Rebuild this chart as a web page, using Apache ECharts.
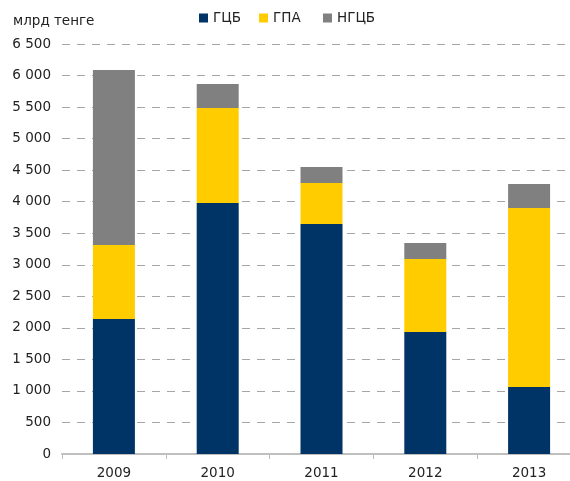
<!DOCTYPE html>
<html><head><meta charset="utf-8">
<script src="https://cdn.jsdelivr.net/npm/echarts@6/dist/echarts.min.js"></script>
<style>html,body{margin:0;padding:0;background:#fff}#c{width:570px;height:481px}</style>
</head><body><div id="c"></div>
<script>
var categories = ['2009','2010','2011','2012','2013'];
var gcb  = [2140, 3979, 3646, 1934, 1062];
var gpa  = [1173, 1506, 650, 1157, 2838];
var ngcb = [2775, 381, 254, 254, 380];
var yTicks = {min: 0, max: 6500, interval: 500};
var seriesNames = ['ГЦБ','ГПА','НГЦБ'];

var chart = echarts.init(document.getElementById('c'), null, {renderer:'canvas'});
var font = 'DejaVu Sans';
var fs = 13.5;
var legendLeft = [199, 259, 323];
function fmt(v){ return String(v).replace(/\B(?=(\d{3})+(?!\d))/g, ' '); }
chart.setOption({
  animation: false,
  textStyle: {fontFamily: font},
  title: {text: 'млрд тенге', left: 8, top: 9, textStyle: {fontFamily: font, fontSize: fs, fontWeight: 'normal', color: '#222'}},
  legend: seriesNames.map(function(n, i){
    return {data: [n], top: 11, left: legendLeft[i], padding: 0, icon: 'rect', itemWidth: 9, itemHeight: 9,
      textStyle: {fontFamily: font, fontSize: fs, color: '#222'}};
  }),
  grid: {left: 62, width: 519, top: 44, bottom: 27, containLabel: false, outerBoundsMode: 'none'},
  xAxis: {
    type: 'category', data: categories,
    axisLine: {lineStyle: {color: '#bfbfbf', width: 2}},
    axisTick: {show: true, length: 5, lineStyle: {color: '#bfbfbf'}},
    axisLabel: {fontFamily: font, fontSize: fs, color: '#222', margin: 12}
  },
  yAxis: {
    type: 'value', min: yTicks.min, max: yTicks.max, interval: yTicks.interval,
    axisLine: {show: false}, axisTick: {show: false},
    axisLabel: {fontFamily: font, fontSize: fs, color: '#222', margin: 11, formatter: fmt},
    splitLine: {lineStyle: {color: '#a6a6a6', type: [8,7], width: 1.2}}
  },
  series: [
    {name: seriesNames[0], type: 'bar', stack: 's', barWidth: 42, data: gcb, itemStyle: {color: '#003366'}},
    {name: seriesNames[1], type: 'bar', stack: 's', barWidth: 42, data: gpa, itemStyle: {color: '#ffcc00'}},
    {name: seriesNames[2], type: 'bar', stack: 's', barWidth: 42, data: ngcb, itemStyle: {color: '#808080'}}
  ]
});
</script></body></html>
